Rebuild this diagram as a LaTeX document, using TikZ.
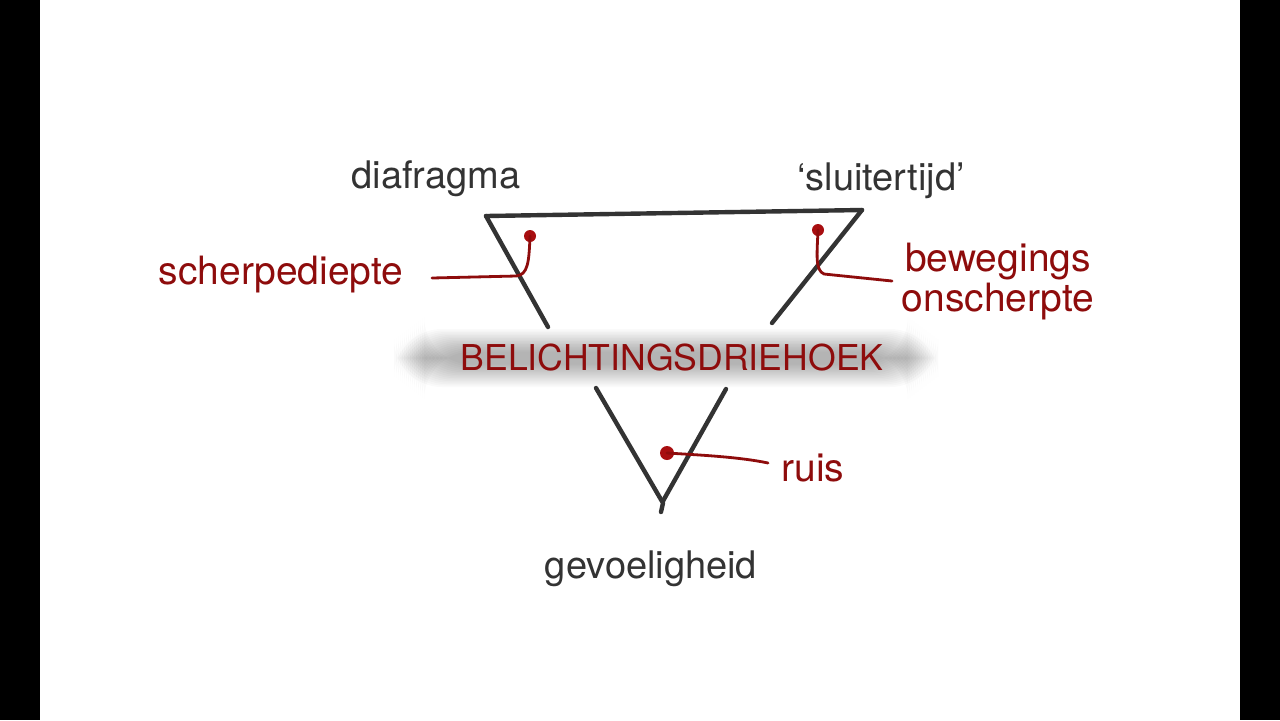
\documentclass[tikz,border=0pt]{standalone}
\usepackage{fontspec}
\setmainfont{TeX Gyre Heros}
\usetikzlibrary{positioning,calc}
\definecolor{darkred}{HTML}{8E0C0C}
\definecolor{dotred}{HTML}{A80E10}
\definecolor{inkgray}{HTML}{333333}
\begin{document}
\begin{tikzpicture}[x=0.5pt, y=-0.5pt,
				word/.style={inner sep=0pt, anchor=base, text=inkgray, font=\fontsize{19}{23}\selectfont},
				note/.style={inner sep=0pt, anchor=base, text=darkred, font=\fontsize{19.5}{20}\selectfont, align=center},
				side/.style={draw=inkgray, line width=2.2pt, line cap=round, line join=round},
				marker/.style={draw=darkred, line width=1.4pt, line cap=round},
				pin/.style={circle, fill=dotred, inner sep=0pt, minimum size=6pt}
			]
			\useasboundingbox (0,0) rectangle (1280,720);
			\fill[black] (0,0) rectangle (1280,720);
			\fill[white] (40,0) rectangle (1240,720);
			% corners of the triangle
			\coordinate (topleft) at (486,216);
			\coordinate (topright) at (862,210);
			\coordinate (bottom) at (661,512);
			\coordinate (leftcut) at (548,327);
			\coordinate (rightcut) at (772,323);
			\coordinate (lowleft) at (596,388);
			\coordinate (lowright) at (726,389);
			\draw[side] (topleft) -- (topright);
			\draw[side] (topleft) -- (leftcut);
			\draw[side] (topright) -- (rightcut);
			\draw[side] (lowleft) -- (663,503) -- (bottom);
			\draw[side] (lowright) -- (663,501);
			% the band across the middle
			\coordinate (bandc) at (666,358);
			\foreach \i in {0,...,15} {
				\fill[black, opacity=0.018, rounded corners=24]
					($(bandc)+(-272+\i*2,-29+\i*1.5)$) rectangle ($(bandc)+(272-\i*2,29-\i*1.5)$);
			}
			\node[note, font=\fontsize{17.8}{22}\selectfont] (triangle) at (672,370) {BELICHTINGSDRIEHOEK};
			% the three corners
			\node[word] (aperture) at (436,188) {diafragma};
			\node[word] (shutter) at (881,190) {`sluitertijd'};
			\node[word] (iso) at (651,578) {gevoeligheid};
			% what each corner brings
			\node[note] (depth) at (281,284) {scherpediepte};
			\node[note] (noise) at (813,481) {ruis};
			\node[note, anchor=north] (blur) at (998,243) {bewegings\\onscherpte};
			\node[pin] (pindepth) at (530,236) {};
			\node[pin] (pinblur) at (818,230) {};
			\node[pin, minimum size=7pt] (pinnoise) at (667,453) {};
			\coordinate (enddepth) at (432,278);
			\coordinate (endblur) at (892,281);
			\coordinate (endnoise) at (768,463);
			\draw[marker] (pindepth.center) .. controls (529,262) and (528,275) .. (516,276) -- (enddepth);
			\draw[marker] (pinblur.center) .. controls (817,255) and (815,270) .. (824,274) -- (endblur);
			\draw[marker] (pinnoise.center) .. controls (700,455) and (740,457) .. (endnoise);
			\end{tikzpicture}
\end{document}
